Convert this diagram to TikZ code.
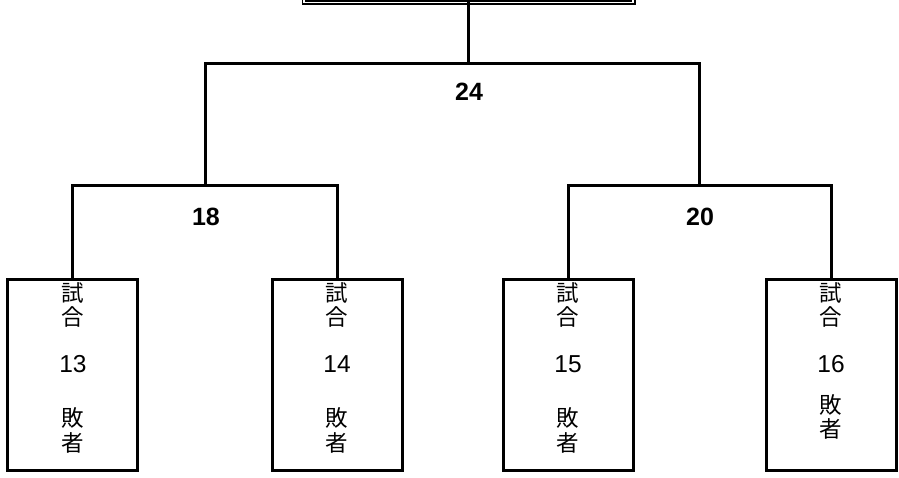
\documentclass[tikz,border=0pt]{standalone}
\usepackage{fontspec}
\setmainfont{Liberation Sans}
\newfontfamily\jp{Noto Sans CJK JP}
\begin{document}
\begin{tikzpicture}[x=1pt,y=-1pt,
  conn/.style={line width=3pt,line cap=rect},
  matchbox/.style={draw,line width=3pt,minimum width=130pt,minimum height=191pt,inner sep=0pt},
  kan/.style={inner sep=0pt,font=\jp\fontsize{22.5}{22.5}\selectfont},
  num/.style={inner sep=0pt,font=\fontsize{24.5}{24.5}\selectfont},
  lbl/.style={inner sep=0pt,font=\bfseries\fontsize{25}{25}\selectfont}]
\useasboundingbox[fill=white] (0,0) rectangle (899,477);
% top (final) box, only its lower double border is visible
\node[draw,double,line width=1.7pt,double distance=1.6pt,minimum width=329pt,minimum height=62.5pt,inner sep=0pt] (top) at (468.5,-28.75) {};
% first-round boxes
\node[matchbox] (b13) at (72.5,375) {};
\node[matchbox] (b14) at (337,375) {};
\node[matchbox] (b15) at (568,375) {};
\node[matchbox] (b16) at (831.5,375) {};
% junctions
\coordinate (j24) at (468.5,63.7);
\coordinate (c18) at (205,185.5);
\coordinate (c20) at (699.5,185.5);
% connectors
\draw[conn] (top.south) -- (j24);
\draw[conn] (c18) |- (j24) -| (c20);
\draw[conn] (b13.north) |- (c18) -| (b14.north);
\draw[conn] (b15.north) |- (c20) -| (b16.north);
% labels
\node[lbl] (l24) at (469,92) {24};
\node[lbl] (l18) at (206,216.5) {18};
\node[lbl] (l20) at (700,217) {20};
% box texts
\foreach \b/\x/\n/\ya/\yb in {b13/73/13/418/443, b14/337/14/418/443, b15/568/15/418/443, b16/831/16/405/429}{
  \node[kan] (\b-s) at (\x,293) {試};
  \node[kan] (\b-g) at (\x,317) {合};
  \node[num] (\b-n) at (\x,364.5) {\n};
  \node[kan] (\b-h) at (\x,\ya) {敗};
  \node[kan] (\b-m) at (\x,\yb) {者};
}
\end{tikzpicture}
\end{document}
